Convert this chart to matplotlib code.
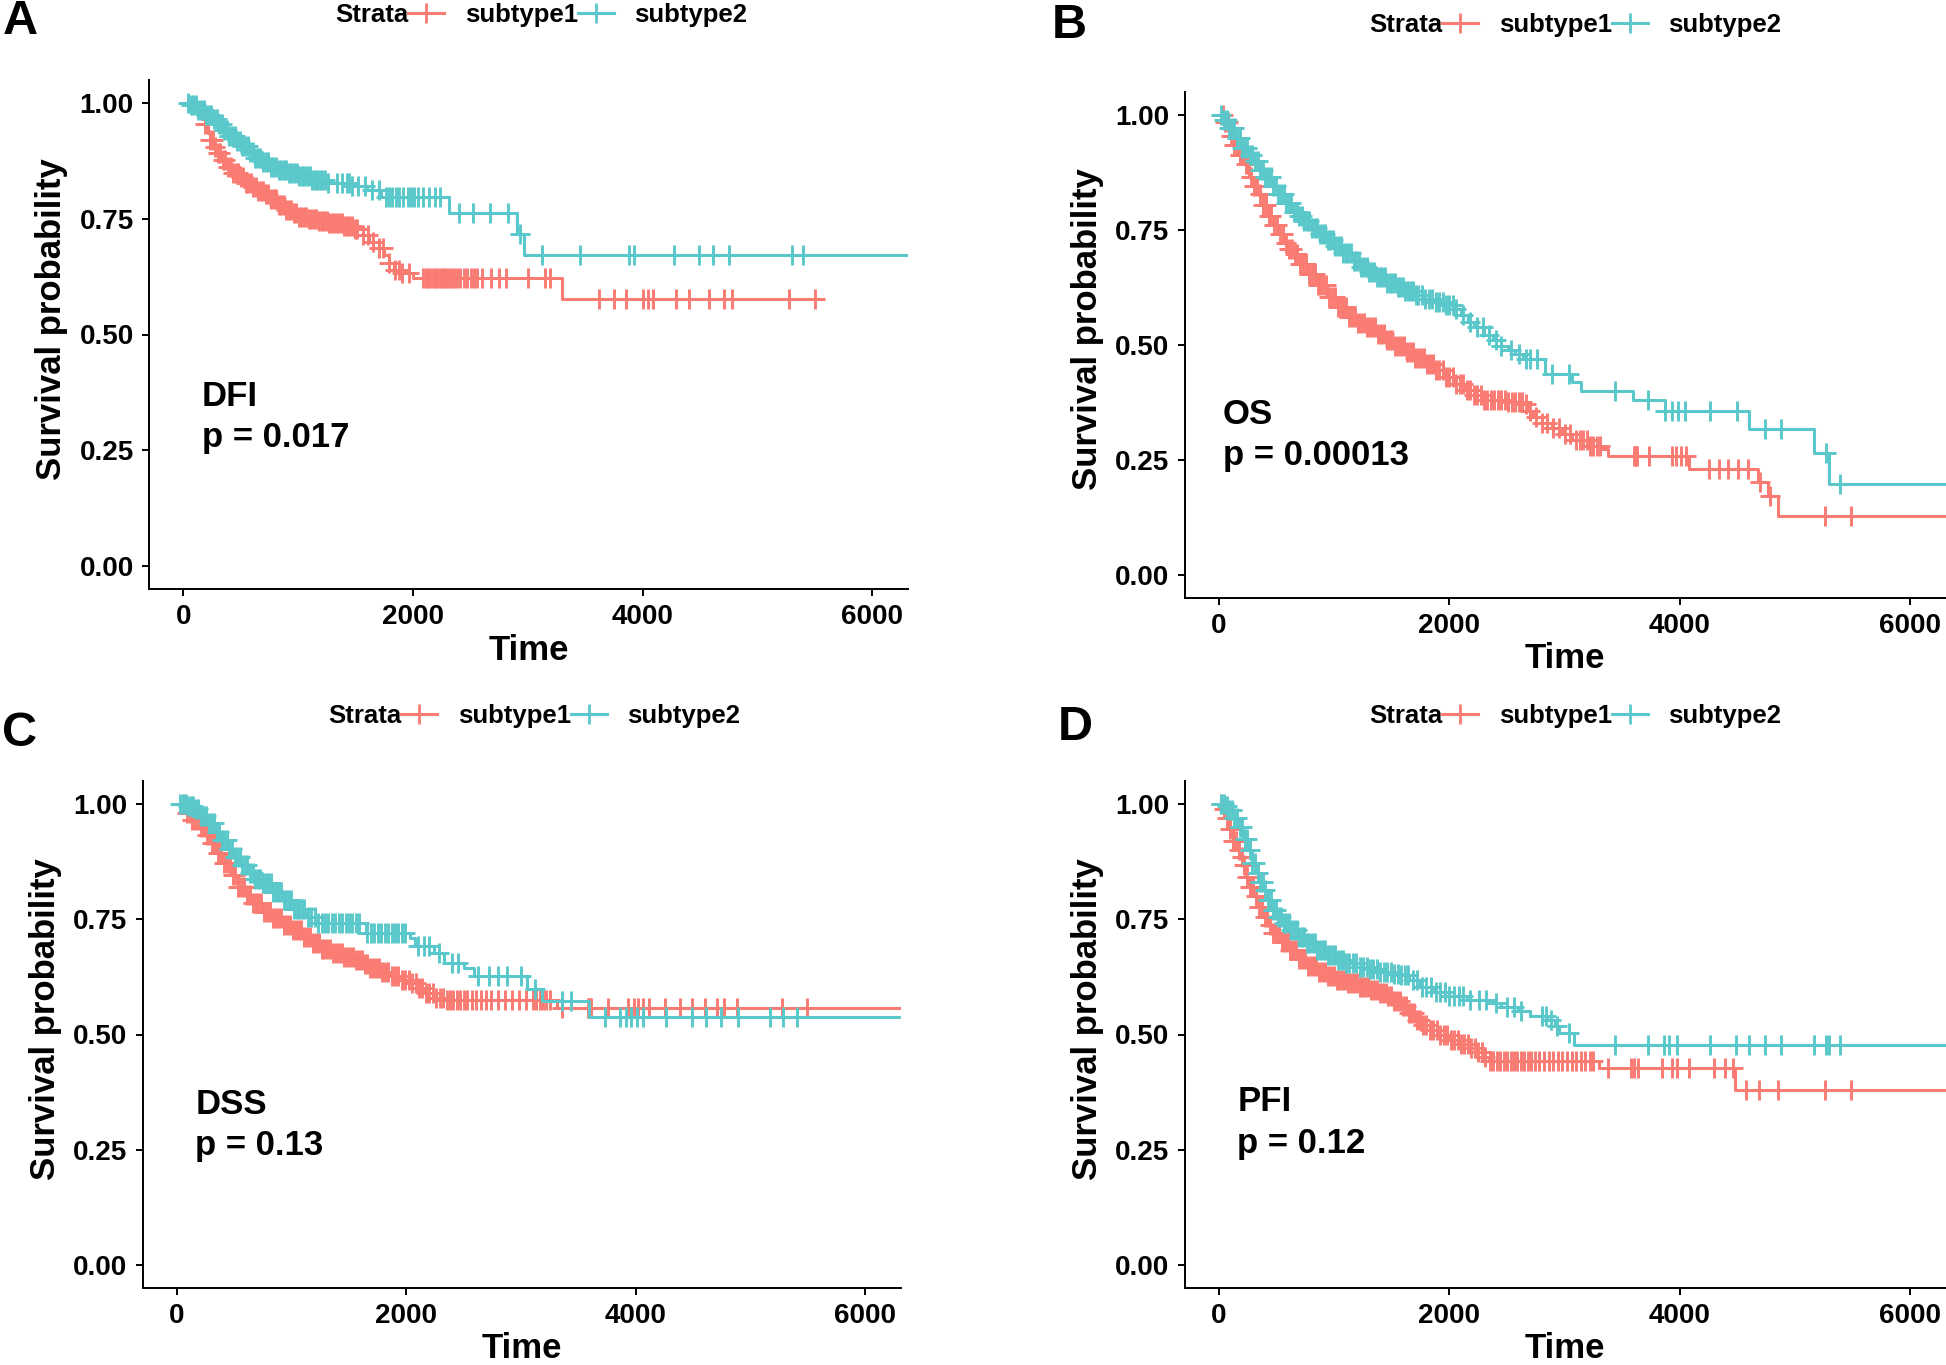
import numpy as np
import matplotlib
matplotlib.use('Agg')
from matplotlib import pyplot as plt
from matplotlib.lines import Line2D

plt.rcParams['font.family'] = ['Liberation Sans', 'DejaVu Sans']
plt.rcParams['font.weight'] = 'bold'

RED = '#F97B72'
TEAL = '#5AC8CA'

# ---- A: DFI ----
dfi_t1 = [0, 40, 80, 120, 160, 190, 215, 235, 260, 290, 330, 380, 430, 480, 540, 600, 650, 700,
          760, 820, 880, 940, 1000, 1080, 1160, 1260, 1380, 1480, 1560, 1620, 1700, 1750, 1790,
          1830, 1900, 2000, 3293, 5563]
dfi_s1 = [1.000, 0.995, 0.988, 0.978, 0.965, 0.955, 0.935, 0.920, 0.905, 0.893, 0.878, 0.862,
          0.850, 0.840, 0.828, 0.818, 0.810, 0.803, 0.792, 0.780, 0.770, 0.762, 0.755, 0.750,
          0.745, 0.740, 0.735, 0.728, 0.715, 0.700, 0.688, 0.672, 0.655, 0.640, 0.632, 0.622,
          0.577, 0.577]
dfi_c1 = [190, 212, 235, 255, 278, 300, 322, 345, 366, 388, 410, 433, 455, 476, 498, 520, 543,
          565, 586, 608, 630, 652, 675, 697, 718, 740, 762, 785, 806, 828, 850, 873, 895, 917,
          938, 960, 982, 1005, 1027, 1048, 1070, 1092, 1115, 1137, 1158, 1180, 1203, 1225, 1247,
          1268, 1290, 1312, 1335, 1357, 1378, 1400, 1423, 1445, 1467, 1490, 1512, 1560, 1610,
          1650, 1700, 1740, 1790, 1845, 1880, 1900, 1960, 2090, 2110, 2130, 2150, 2170, 2190,
          2210, 2230, 2250, 2270, 2290, 2310, 2335, 2360, 2385, 2410, 2440, 2470, 2500, 2530,
          2560, 2600, 2680, 2745, 2810, 3000, 3146, 3190, 3622, 3750, 3850, 4005, 4049, 4092,
          4292, 4400, 4580, 4710, 4774, 5272, 5500]
dfi_t2 = [0, 60, 120, 180, 250, 300, 350, 400, 450, 500, 560, 620, 680, 750, 820, 900, 1000,
          1100, 1250, 1450, 1600, 1720, 2311, 2909, 2970, 6500]
dfi_s2 = [1.000, 0.995, 0.985, 0.975, 0.965, 0.955, 0.942, 0.930, 0.918, 0.908, 0.895, 0.882,
          0.872, 0.862, 0.855, 0.850, 0.842, 0.833, 0.828, 0.820, 0.812, 0.798, 0.763, 0.718,
          0.671, 0.671]
dfi_c2 = [40, 62, 85, 108, 130, 152, 175, 198, 220, 243, 265, 288, 310, 333, 355, 378, 400,
          423, 445, 468, 490, 513, 535, 558, 580, 603, 625, 648, 670, 693, 715, 738, 760, 783,
          805, 828, 850, 873, 895, 918, 940, 963, 985, 1008, 1030, 1053, 1075, 1098, 1120, 1143,
          1165, 1188, 1210, 1233, 1255, 1340, 1380, 1420, 1445, 1470, 1520, 1580, 1640, 1700,
          1765, 1790, 1820, 1850, 1880, 1910, 1957, 1985, 2010, 2040, 2085, 2140, 2193, 2230,
          2397, 2523, 2669, 2823, 2930, 3122, 3450, 3877, 3920, 4271, 4494, 4612, 4750, 5300,
          5395]

# ---- B: OS ----
os_t1 = [0, 40, 86, 130, 170, 213, 260, 300, 341, 380, 426, 470, 511, 560, 600, 638, 700, 766,
         850, 936, 1020, 1106, 1190, 1276, 1360, 1446, 1530, 1616, 1700, 1786, 1870, 1956, 2040,
         2126, 2210, 2296, 2500, 2636, 2680, 2721, 2800, 2891, 2980, 3061, 3200, 3316, 3380,
         4081, 4676, 4761, 4855, 6500]
os_s1 = [1.000, 0.985, 0.955, 0.935, 0.912, 0.893, 0.865, 0.845, 0.828, 0.805, 0.781, 0.760,
         0.741, 0.722, 0.708, 0.698, 0.676, 0.654, 0.630, 0.604, 0.582, 0.560, 0.548, 0.539,
         0.524, 0.510, 0.497, 0.484, 0.472, 0.459, 0.445, 0.430, 0.415, 0.401, 0.390, 0.380,
         0.375, 0.372, 0.355, 0.343, 0.330, 0.318, 0.305, 0.293, 0.280, 0.273, 0.257, 0.229,
         0.202, 0.170, 0.128, 0.128]
os_c1 = [30, 55, 80, 105, 130, 155, 180, 205, 230, 255, 280, 305, 330, 355, 380, 405, 430, 455,
         480, 505, 530, 555, 580, 605, 630, 655, 680, 705, 730, 755, 780, 805, 830, 855, 880,
         905, 930, 955, 980, 1005, 1030, 1055, 1080, 1105, 1130, 1155, 1180, 1205, 1230, 1255,
         1280, 1305, 1330, 1355, 1380, 1405, 1430, 1455, 1480, 1505, 1530, 1555, 1580, 1605,
         1630, 1655, 1680, 1705, 1730, 1755, 1780, 1805, 1830, 1855, 1880, 1910, 1940, 1970,
         2000, 2030, 2060, 2090, 2120, 2150, 2180, 2210, 2240, 2270, 2300, 2330, 2360, 2390,
         2420, 2450, 2480, 2510, 2540, 2570, 2600, 2630, 2660, 2700, 2750, 2800, 2850, 2900,
         2950, 3000, 3050, 3100, 3130, 3160, 3190, 3220, 3250, 3280, 3310, 3600, 3610, 3620,
         3630, 3728, 3930, 3970, 4010, 4050, 4251, 4336, 4421, 4506, 4591, 4697, 4783, 5263,
         5484]
os_t2 = [0, 40, 86, 140, 200, 250, 298, 350, 400, 450, 511, 570, 630, 680, 723, 800, 870, 936,
         1000, 1070, 1148, 1220, 1290, 1361, 1450, 1530, 1616, 1700, 1790, 1871, 1960, 2041,
         2100, 2160, 2211, 2300, 2381, 2450, 2508, 2570, 2636, 2827, 3061, 3146, 3592, 3868,
         4603, 5164, 5292, 6500]
os_s2 = [1.000, 0.990, 0.972, 0.950, 0.928, 0.912, 0.900, 0.880, 0.865, 0.846, 0.828, 0.808,
         0.790, 0.780, 0.770, 0.755, 0.740, 0.727, 0.715, 0.700, 0.683, 0.670, 0.658, 0.647,
         0.635, 0.625, 0.618, 0.608, 0.600, 0.593, 0.586, 0.578, 0.565, 0.550, 0.539, 0.522,
         0.510, 0.498, 0.488, 0.479, 0.470, 0.4375, 0.419, 0.400, 0.380, 0.3565, 0.317, 0.264,
         0.197, 0.197]
os_c2 = [20, 42, 65, 88, 110, 133, 155, 178, 200, 223, 245, 268, 290, 313, 335, 358, 380, 403,
         425, 448, 470, 493, 515, 538, 560, 583, 605, 628, 650, 673, 695, 718, 740, 763, 785,
         808, 830, 853, 875, 898, 920, 943, 965, 988, 1010, 1033, 1055, 1078, 1100, 1123, 1145,
         1168, 1190, 1213, 1235, 1258, 1280, 1303, 1325, 1348, 1370, 1393, 1415, 1438, 1460,
         1483, 1505, 1528, 1550, 1573, 1595, 1618, 1640, 1663, 1685, 1708, 1730, 1760, 1790,
         1820, 1850, 1880, 1910, 1940, 1970, 2000, 2030, 2060, 2120, 2180, 2240, 2290, 2340,
         2400, 2450, 2530, 2600, 2660, 2700, 2760, 2891, 3040, 3435, 3720, 3868, 3932, 3987,
         4041, 4264, 4500, 4740, 4880, 5270, 5390]

# ---- C: DSS ----
dss_t1 = [0, 62, 130, 190, 250, 297, 350, 404, 470, 532, 600, 660, 750, 831, 920, 1002, 1090,
          1173, 1260, 1344, 1450, 1557, 1620, 1685, 1770, 1857, 1940, 2029, 2100, 2156, 2250,
          2328, 3310, 6500]
dss_s1 = [1.000, 0.980, 0.965, 0.951, 0.932, 0.915, 0.893, 0.872, 0.845, 0.821, 0.802, 0.785,
          0.766, 0.752, 0.738, 0.727, 0.712, 0.698, 0.686, 0.6765, 0.668, 0.662, 0.652, 0.644,
          0.635, 0.626, 0.618, 0.6115, 0.600, 0.590, 0.580, 0.575, 0.557, 0.557]
dss_c1 = [60, 85, 110, 135, 160, 185, 210, 235, 260, 285, 310, 335, 360, 385, 410, 435, 460,
          485, 510, 535, 560, 585, 610, 635, 660, 685, 710, 735, 760, 785, 810, 835, 860, 885,
          910, 935, 960, 985, 1010, 1035, 1060, 1085, 1110, 1135, 1160, 1185, 1210, 1235, 1260,
          1285, 1310, 1335, 1360, 1385, 1410, 1435, 1460, 1485, 1510, 1535, 1560, 1585, 1610,
          1635, 1660, 1685, 1710, 1735, 1760, 1785, 1810, 1840, 1870, 1900, 1930, 1960, 1990,
          2020, 2050, 2080, 2110, 2140, 2170, 2200, 2230, 2260, 2290, 2320, 2350, 2380, 2410,
          2440, 2470, 2500, 2530, 2570, 2610, 2650, 2690, 2740, 2800, 2860, 2920, 2980, 3040,
          3100, 3130, 3160, 3190, 3220, 3250, 3360, 3580, 3590, 3600, 3610, 3759, 3935, 3980,
          4020, 4060, 4110, 4252, 4380, 4490, 4600, 4706, 4770, 4880, 5275, 5490]
dss_t2 = [0, 80, 147, 210, 276, 330, 383, 440, 490, 550, 618, 680, 746, 830, 917, 1020, 1131,
          1216, 1644, 2029, 2071, 2243, 2328, 2500, 2585, 3055, 3183, 3590, 6500]
dss_s2 = [1.000, 0.996, 0.990, 0.975, 0.958, 0.940, 0.922, 0.903, 0.886, 0.868, 0.850, 0.838,
          0.828, 0.810, 0.792, 0.772, 0.756, 0.742, 0.720, 0.709, 0.691, 0.6765, 0.655, 0.644,
          0.626, 0.598, 0.5716, 0.539, 0.539]
dss_c2 = [30, 52, 75, 98, 120, 143, 165, 188, 210, 233, 255, 278, 300, 323, 345, 368, 390, 413,
          435, 458, 480, 503, 525, 548, 570, 593, 615, 638, 660, 683, 705, 728, 750, 773, 795,
          818, 840, 863, 885, 908, 930, 953, 975, 998, 1020, 1043, 1065, 1088, 1110, 1140, 1170,
          1200, 1230, 1260, 1290, 1320, 1350, 1380, 1410, 1440, 1470, 1500, 1530, 1560, 1590,
          1660, 1690, 1720, 1750, 1780, 1810, 1840, 1870, 1900, 1930, 1960, 1990, 2100, 2150,
          2200, 2280, 2400, 2450, 2620, 2720, 2800, 2880, 3000, 3120, 3352, 3437, 3730, 3865,
          3910, 3960, 4010, 4060, 4260, 4490, 4610, 4745, 4890, 5170, 5280, 5400]

# ---- D: PFI ----
pfi_t1 = [0, 30, 60, 86, 120, 150, 171, 200, 234, 265, 298, 340, 383, 425, 468, 530, 596, 680,
          766, 850, 936, 1020, 1106, 1210, 1318, 1380, 1446, 1510, 1573, 1640, 1701, 1765, 1828,
          1910, 1998, 2080, 2168, 2230, 2296, 2339, 3295, 4476, 6500]
pfi_s1 = [1.000, 0.990, 0.970, 0.945, 0.920, 0.900, 0.886, 0.868, 0.8425, 0.820, 0.800, 0.776,
          0.756, 0.737, 0.720, 0.700, 0.684, 0.664, 0.648, 0.636, 0.626, 0.618, 0.6115, 0.604,
          0.597, 0.590, 0.5825, 0.572, 0.561, 0.546, 0.532, 0.521, 0.510, 0.499, 0.489, 0.480,
          0.471, 0.462, 0.452, 0.4416, 0.4273, 0.380, 0.380]
pfi_c1 = [20, 45, 70, 95, 120, 145, 170, 195, 220, 245, 270, 295, 320, 345, 370, 395, 420, 445,
          470, 495, 520, 545, 570, 595, 620, 645, 670, 695, 720, 745, 770, 795, 820, 845, 870,
          895, 920, 945, 970, 995, 1020, 1045, 1070, 1095, 1120, 1145, 1170, 1195, 1220, 1245,
          1270, 1295, 1320, 1345, 1370, 1395, 1420, 1445, 1470, 1495, 1520, 1545, 1570, 1595,
          1620, 1645, 1670, 1695, 1720, 1745, 1770, 1800, 1830, 1860, 1890, 1920, 1950, 1980,
          2010, 2040, 2070, 2100, 2130, 2160, 2190, 2220, 2250, 2280, 2310, 2350, 2380, 2410,
          2440, 2470, 2500, 2530, 2560, 2590, 2620, 2650, 2680, 2710, 2740, 2780, 2820, 2860,
          2900, 2940, 2980, 3020, 3060, 3100, 3140, 3180, 3220, 3250, 3380, 3580, 3600, 3633,
          3846, 3932, 3974, 4081, 4294, 4388, 4460, 4570, 4685, 4855, 5262, 5484]
pfi_t2 = [0, 50, 86, 120, 171, 210, 256, 290, 319, 350, 383, 425, 468, 510, 553, 620, 681, 760,
          851, 940, 1021, 1100, 1191, 1300, 1400, 1500, 1573, 1650, 1743, 1870, 1998, 2150, 2339,
          2450, 2593, 2700, 2848, 2912, 2955, 3082, 6500]
pfi_s2 = [1.000, 0.995, 0.987, 0.970, 0.951, 0.925, 0.900, 0.873, 0.850, 0.830, 0.814, 0.792,
          0.770, 0.755, 0.742, 0.726, 0.7125, 0.698, 0.684, 0.672, 0.662, 0.655, 0.6475, 0.642,
          0.636, 0.632, 0.6295, 0.618, 0.604, 0.592, 0.5825, 0.575, 0.568, 0.560, 0.550, 0.541,
          0.532, 0.5175, 0.503, 0.478, 0.478]
pfi_c2 = [20, 42, 65, 88, 110, 133, 155, 178, 200, 223, 245, 268, 290, 313, 335, 358, 380, 403,
          425, 448, 470, 493, 515, 538, 560, 583, 605, 628, 650, 673, 695, 718, 740, 763, 785,
          808, 830, 853, 875, 898, 920, 943, 965, 988, 1010, 1033, 1055, 1078, 1100, 1130, 1160,
          1190, 1220, 1250, 1280, 1310, 1340, 1370, 1400, 1430, 1460, 1490, 1520, 1550, 1580,
          1610, 1640, 1680, 1720, 1760, 1800, 1840, 1880, 1920, 1960, 2000, 2040, 2080, 2120,
          2180, 2260, 2320, 2400, 2500, 2560, 2620, 2800, 2840, 2880, 2930, 3040, 3435, 3719,
          3860, 3902, 3976, 4264, 4485, 4603, 4740, 4880, 5165, 5271, 5292, 5390]

W, H = 1946, 1365
fig = plt.figure(figsize=(W / 100, H / 100), dpi=100)


def px_axes(left, top, right, bottom):
    return fig.add_axes([left / W, 1 - bottom / H, (right - left) / W, (bottom - top) / H])


def km(ax, t, s, cens, color):
    t = np.array(t, dtype=float)
    s = np.array(s, dtype=float)
    ax.step(t, s, where='post', color=color, lw=2.2, zorder=3)
    c = np.array(cens, dtype=float)
    idx = np.searchsorted(t, c, side='right') - 1
    ax.plot(c, s[idx], ls='none', marker='+', ms=14, mew=2.1, color=color, zorder=3)


def panel(box, curves, name, pval, txt_x, txt_y, leg_xy, letter, letter_xy):
    ax = px_axes(*box)
    for t, s, cens, col in curves:
        km(ax, t, s, cens, col)
    ax.set_xlim(-300, 6310)
    ax.set_ylim(-0.05, 1.05)
    ax.set_xticks([0, 2000, 4000, 6000])
    ax.set_yticks([0, 0.25, 0.5, 0.75, 1.0])
    ax.set_yticklabels(['0.00', '0.25', '0.50', '0.75', '1.00'])
    for sp in ['top', 'right']:
        ax.spines[sp].set_visible(False)
    for sp in ['left', 'bottom']:
        ax.spines[sp].set_linewidth(1.4)
    ax.tick_params(length=5, width=1.4, labelsize=20, pad=6, colors='black')
    ax.set_xlabel('Time', fontsize=25, fontweight='bold', va='center')
    ax.set_ylabel('Survival probability', fontsize=25, fontweight='bold', va='center')
    ax.xaxis.set_label_coords(0.5, -0.12)
    ax.yaxis.set_label_coords(-0.128, 0.531)
    ax.text(txt_x, txt_y, name, fontsize=25, fontweight='bold', va='center', ha='left')
    ax.text(txt_x, txt_y - 0.09, 'p = ' + pval, fontsize=25, fontweight='bold',
            va='center', ha='left')

    handles = [Line2D([], [], color=RED, lw=2.2, marker='+', ms=15, mew=2),
               Line2D([], [], color=TEAL, lw=2.2, marker='+', ms=15, mew=2),
               Line2D([], [], color='none')]
    fig.legend(handles, ['Strata', 'subtype1', 'subtype2'], loc='center left',
               bbox_to_anchor=(leg_xy[0] / W, 1 - leg_xy[1] / H), ncol=3, frameon=False,
               markerfirst=False, handlelength=1.4, handletextpad=0.0, columnspacing=0.8,
               borderpad=0, borderaxespad=0, prop={'weight': 'bold', 'size': 18.5})
    fig.text(letter_xy[0] / W, 1 - letter_xy[1] / H, letter, fontsize=35,
             fontweight='bold', ha='center', va='center')
    return ax


panel((149, 80, 908, 589),
      [(dfi_t1, dfi_s1, dfi_c1, RED), (dfi_t2, dfi_s2, dfi_c2, TEAL)],
      'DFI', '0.017', 160, 0.367, (335, 15), 'A', (20, 22))
panel((1184.5, 92, 1946, 597.6),
      [(os_t1, os_s1, os_c1, RED), (os_t2, os_s2, os_c2, TEAL)],
      'OS', '0.00013', 35, 0.349, (1369, 25), 'B', (1069, 26))
panel((142.5, 781, 901, 1288),
      [(dss_t1, dss_s1, dss_c1, RED), (dss_t2, dss_s2, dss_c2, TEAL)],
      'DSS', '0.13', 160, 0.349, (328, 716), 'C', (20, 733))
panel((1184.5, 781, 1946, 1288),
      [(pfi_t1, pfi_s1, pfi_c1, RED), (pfi_t2, pfi_s2, pfi_c2, TEAL)],
      'PFI', '0.12', 157, 0.354, (1369, 716), 'D', (1075, 727))

fig.savefig('out.png', dpi=100)
